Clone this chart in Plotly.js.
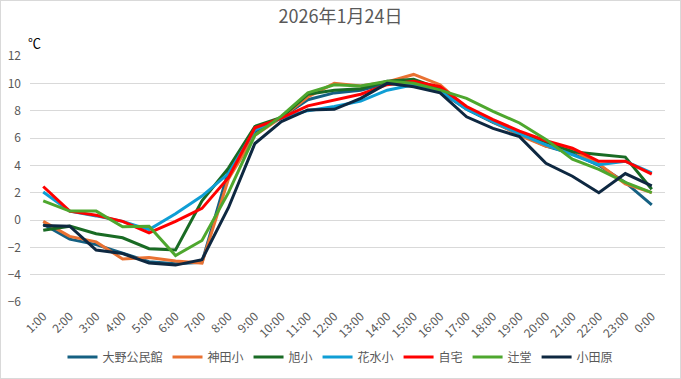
<!DOCTYPE html>
<html>
<head>
<meta charset="utf-8">
<script src="https://cdn.plot.ly/plotly-3.0.1.min.js"></script>
<style>
  html, body { margin: 0; padding: 0; background: #fff; }
  #wrap { position: relative; width: 681px; height: 379px; }
  #chart { width: 681px; height: 379px; }
  #frame { position: absolute; left: 0; top: 0; width: 681px; height: 379px; box-sizing: border-box; border: 1px solid #d9d9d9; pointer-events: none; }
</style>
</head>
<body>
<div id="wrap"><div id="chart"></div><div id="frame"></div></div>
<script>
const hours = ["1:00","2:00","3:00","4:00","5:00","6:00","7:00","8:00","9:00","10:00","11:00","12:00",
               "13:00","14:00","15:00","16:00","17:00","18:00","19:00","20:00","21:00","22:00","23:00","0:00"];

const seriesNames = ["大野公民館","神田小","旭小","花水小","自宅","辻堂","小田原"];
const seriesColors = ["#156082","#E97132","#196B24","#0F9ED5","#FF0000","#4EA72E","#0E2841"];

const oonoKominkan = [-0.3,-1.4,-1.8,-2.4,-3.05,-3.2,-3.1,3.6,6.4,7.5,8.8,9.3,9.5,10.0,10.0,9.4,8.1,7.15,6.25,5.4,4.85,4.0,2.75,1.1];
const kandaSho     = [-0.1,-1.2,-1.6,-2.85,-2.75,-3.0,-3.15,3.0,6.2,7.5,9.0,10.0,9.8,10.1,10.65,9.9,8.2,7.2,6.2,5.4,5.1,4.1,2.65,2.0];
const asahiSho     = [-0.75,-0.45,-1.0,-1.3,-2.1,-2.2,1.4,3.8,6.85,7.5,9.2,9.5,9.6,10.15,10.3,9.6,8.2,7.3,6.35,5.7,5.0,4.8,4.6,2.25];
const hanamizuSho  = [2.05,0.65,0.3,-0.1,-0.7,0.45,1.75,3.4,6.6,7.45,8.0,8.3,8.7,9.5,9.9,9.45,8.1,7.2,6.3,5.5,4.8,4.05,4.3,3.45];
const jitaku       = [2.45,0.65,0.35,-0.1,-0.95,-0.1,0.85,3.1,6.75,7.45,8.35,8.8,9.2,9.9,10.15,9.75,8.3,7.35,6.5,5.8,5.25,4.3,4.3,3.35];
const tsujido      = [1.4,0.65,0.65,-0.5,-0.45,-2.6,-1.5,2.0,6.2,7.6,9.3,9.9,9.8,10.15,10.0,9.5,8.9,7.95,7.1,5.9,4.45,3.7,2.75,2.0];
const odawara      = [-0.4,-0.45,-2.2,-2.45,-3.15,-3.3,-2.9,0.9,5.6,7.2,8.05,8.1,8.9,10.0,9.75,9.3,7.55,6.7,6.1,4.15,3.2,2.0,3.4,2.5];

const allValues = [oonoKominkan, kandaSho, asahiSho, hanamizuSho, jitaku, tsujido, odawara];

const FONT = '"Noto Sans CJK JP", "Noto Sans", sans-serif';

const traces = allValues.map((vals, i) => ({
  type: 'scatter',
  mode: 'lines',
  name: seriesNames[i],
  x: hours,
  y: vals,
  line: { color: seriesColors[i], width: 3 },
  hoverinfo: 'x+y+name'
}));

const layout = {
  width: 681,
  height: 379,
  paper_bgcolor: '#ffffff',
  plot_bgcolor: '#ffffff',
  margin: { l: 30, r: 16, t: 56, b: 77 },
  font: { family: FONT, color: '#595959', size: 12 },
  title: {
    text: '2026年1月24日',
    font: { family: FONT, size: 18, color: '#595959' },
    x: 0.5, xanchor: 'center',
    y: 1 - 17/379, yref: 'container', yanchor: 'middle'
  },
  xaxis: {
    type: 'category',
    tickangle: -45,
    tickfont: { family: FONT, size: 12, color: '#595959' },
    ticklabelstandoff: 4,
    showgrid: false,
    showline: false,
    zeroline: false,
    ticks: '',
    range: [-0.5, 23.5]
  },
  yaxis: {
    range: [-6, 12],
    dtick: 2,
    tick0: 0,
    showgrid: true,
    gridcolor: '#d9d9d9',
    gridwidth: 1,
    zeroline: false,
    showline: false,
    ticks: '',
    ticklabelstandoff: 8,
    tickfont: { family: FONT, size: 12, color: '#595959' }
  },
  showlegend: true,
  legend: {
    orientation: 'h',
    x: 0.5, xanchor: 'center',
    xref: 'container',
    y: 1 - 357/379, yref: 'container', yanchor: 'middle',
    font: { family: FONT, size: 12, color: '#595959' },
    itemwidth: 30,
    tracegroupgap: 0
  },
  annotations: [{
    text: '℃',
    xref: 'paper', yref: 'paper',
    x: 0, y: 1,
    xanchor: 'left', yanchor: 'bottom',
    xshift: -4, yshift: 2,
    showarrow: false,
    font: { family: FONT, size: 13, color: '#000000' }
  }]
};

Plotly.newPlot('chart', traces, layout, { displayModeBar: false, staticPlot: true });
</script>
</body>
</html>
